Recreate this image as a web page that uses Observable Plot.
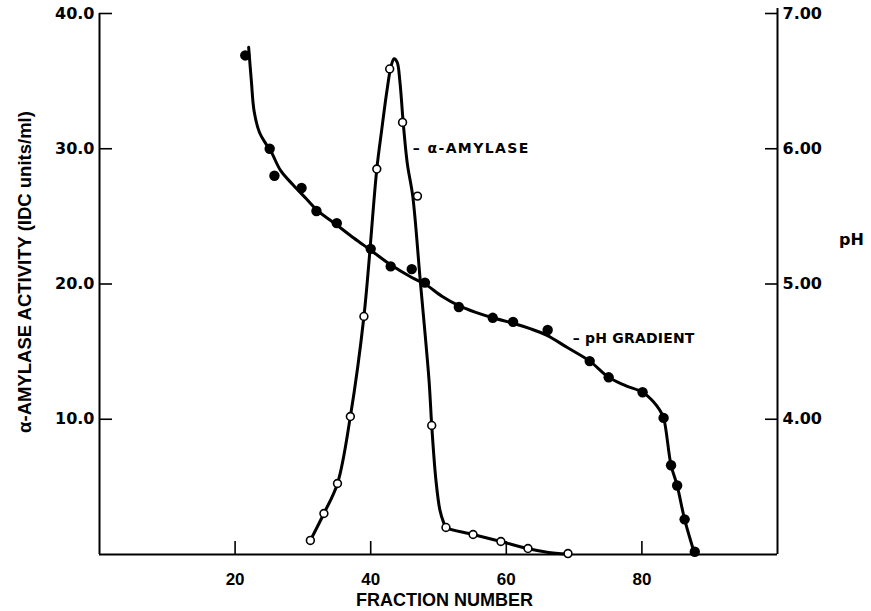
<!DOCTYPE html>
<html><head><meta charset="utf-8">
<script src="https://cdn.jsdelivr.net/npm/d3@7"></script>
<script src="https://cdn.jsdelivr.net/npm/@observablehq/plot@0.6"></script>
<style>body{margin:0;background:#fff}</style>
</head><body><div id="chart"></div>
<script>
// measured points: pH gradient (filled dots)
const phFraction = [21.5, 25.1, 25.8, 29.8, 32.0, 35.0, 40.0, 42.95, 46.05, 48.0, 53.0, 58.0, 61.0, 66.1, 72.3, 75.1, 80.1, 83.2, 84.3, 85.2, 86.3, 87.8];
const phValue    = [6.69, 6.00, 5.80, 5.71, 5.54, 5.45, 5.26, 5.13, 5.11, 5.01, 4.83, 4.75, 4.72, 4.66, 4.43, 4.31, 4.20, 4.01, 3.66, 3.51, 3.26, 3.02];
// measured points: alpha-amylase activity (open circles)
const amyFraction = [31.1, 33.1, 35.1, 37.0, 39.0, 40.9, 42.8, 44.7, 46.9, 49.0, 51.1, 55.1, 59.2, 63.2, 69.1];
const amyValue    = [1.04, 3.03, 5.25, 10.2, 17.6, 28.5, 35.9, 31.95, 26.5, 9.54, 2.0, 1.48, 0.96, 0.44, 0.07];
// hand-drawn fitted curves
const phCurveX = [22.0, 22.4, 22.8, 23.6, 24.5, 25.3, 26.7, 28.6, 30.5, 32.2, 34.9, 37.5, 40.0, 43.0, 46.0, 48.0, 50.5, 53.0, 55.5, 58.0, 61.0, 63.5, 66.0, 69.0, 72.3, 75.1, 77.5, 80.1, 81.7, 82.6, 83.2, 84.3, 85.2, 86.3, 87.8];
const phCurveY = [6.75, 6.50, 6.28, 6.12, 6.04, 5.98, 5.84, 5.73, 5.63, 5.54, 5.44, 5.34, 5.25, 5.14, 5.05, 5.00, 4.91, 4.84, 4.79, 4.75, 4.71, 4.67, 4.62, 4.53, 4.43, 4.31, 4.25, 4.20, 4.13, 4.07, 4.01, 3.66, 3.51, 3.26, 3.00];
const amyCurveX = [31.1, 33.1, 35.1, 37.0, 39.0, 40.9, 41.6, 42.4, 43.0, 43.45, 43.9, 44.3, 44.8, 45.4, 46.2, 47.3, 48.6, 49.0, 49.6, 50.2, 50.8, 51.1, 55.1, 59.2, 63.2, 66.0, 69.1];
const amyCurveY = [1.04, 3.03, 5.25, 10.2, 17.6, 28.5, 31.3, 34.3, 36.1, 36.65, 36.4, 35.0, 31.9, 28.9, 26.5, 20.3, 12.9, 9.54, 5.6, 3.3, 2.3, 2.0, 1.48, 0.96, 0.44, 0.17, 0.03];
// tick values
const xTicks = [20, 40, 60, 80];
const yTicks = [10, 20, 30, 40];
const pHTicks = [4, 5, 6, 7];
// labels
const yLabel = "α-AMYLASE ACTIVITY (IDC units/ml)";
const xLabel = "FRACTION NUMBER";
const rightLabel = "pH";
const annotations = [
  {text: "– α-AMYLASE", fraction: 46.2, activity: 30.0, spacing: "1.4px"},
  {text: "– pH GRADIENT", fraction: 69.8, activity: 16.0, spacing: "0.2px"}
];

const pHToY = p => (p - 3) * 10; // right axis pH 3..7 maps onto 0..40
const phPts = phFraction.map((x, i) => ({x, y: pHToY(phValue[i])}));
const amyPts = amyFraction.map((x, i) => ({x, y: amyValue[i]}));
const phCurve = phCurveX.map((x, i) => ({x, y: pHToY(phCurveY[i])}));
const amyCurve = amyCurveX.map((x, i) => ({x, y: amyCurveY[i]}));

const F1 = "'DejaVu Sans', sans-serif";
const F2 = "'Liberation Sans', Arial, sans-serif";

const chart = Plot.plot({
  width: 871, height: 611,
  marginLeft: 99, marginRight: 94, marginTop: 13, marginBottom: 57,
  style: {background: "#fff", color: "#000"},
  x: {domain: [0, 100], axis: null},
  y: {domain: [0, 40], axis: null},
  marks: [
    Plot.ruleX([0], {stroke: "#000", strokeWidth: 2}),
    Plot.ruleX([100], {stroke: "#000", strokeWidth: 2, insetTop: -5}),
    Plot.ruleY([0], {stroke: "#000", strokeWidth: 2}),
    // inward tick marks
    Plot.axisX(xTicks, {anchor: "bottom", tickSize: 13, dy: -13, strokeWidth: 1.6, tickFormat: () => "", label: null}),
    Plot.axisY(yTicks, {anchor: "left", tickSize: 13, dx: 13, strokeWidth: 1.6, tickFormat: () => "", label: null}),
    Plot.axisY(pHTicks.map(pHToY), {anchor: "right", tickSize: 13, dx: -13, strokeWidth: 1.6, tickFormat: () => "", label: null}),
    // tick labels
    Plot.axisX(xTicks, {anchor: "bottom", tickSize: 0, tickPadding: 18, fontSize: 17, fontWeight: "bold", fontFamily: F2, label: null}),
    Plot.axisY(yTicks, {anchor: "left", tickSize: 0, tickPadding: 5, fontSize: 16, fontWeight: "bold", fontFamily: F1, tickFormat: d => d.toFixed(1), label: null}),
    Plot.axisY(pHTicks.map(pHToY), {anchor: "right", tickSize: 0, tickPadding: 5, fontSize: 16, fontWeight: "bold", fontFamily: F1, tickFormat: d => (3 + d / 10).toFixed(2), label: null}),
    // curves
    Plot.line(phCurve, {x: "x", y: "y", curve: "catmull-rom", stroke: "#000", strokeWidth: 3}),
    Plot.line(amyCurve, {x: "x", y: "y", curve: "catmull-rom", stroke: "#000", strokeWidth: 3}),
    // points
    Plot.dot(phPts, {x: "x", y: "y", r: 5.2, fill: "#000", stroke: "none"}),
    Plot.dot(amyPts, {x: "x", y: "y", r: 3.9, fill: "#fff", stroke: "#000", strokeWidth: 1.6}),
    // annotations
    Plot.text(annotations, {x: "fraction", y: "activity", text: "text", textAnchor: "start", fontSize: 14, fontWeight: "bold", fontFamily: F1}),
    // axis titles
    Plot.text([yLabel], {frameAnchor: "left", textAnchor: "middle", dx: -74, dy: -12, rotate: -90, fontSize: 18.5, fontWeight: "bold", fontFamily: F2}),
    Plot.text([xLabel], {frameAnchor: "bottom", textAnchor: "middle", dx: 6, dy: 51, fontSize: 18, fontWeight: "bold", fontFamily: F2}),
    Plot.text([rightLabel], {frameAnchor: "right", textAnchor: "middle", dx: 74, dy: -44, fontSize: 16, fontWeight: "bold", fontFamily: F1})
  ]
});
// set the letter spacing of the two curve annotations
annotations.forEach(a => {
  d3.select(chart).selectAll("text")
    .filter(function() { return this.textContent === a.text; })
    .style("letter-spacing", a.spacing);
});
document.getElementById("chart").append(chart);
</script>
</body></html>
